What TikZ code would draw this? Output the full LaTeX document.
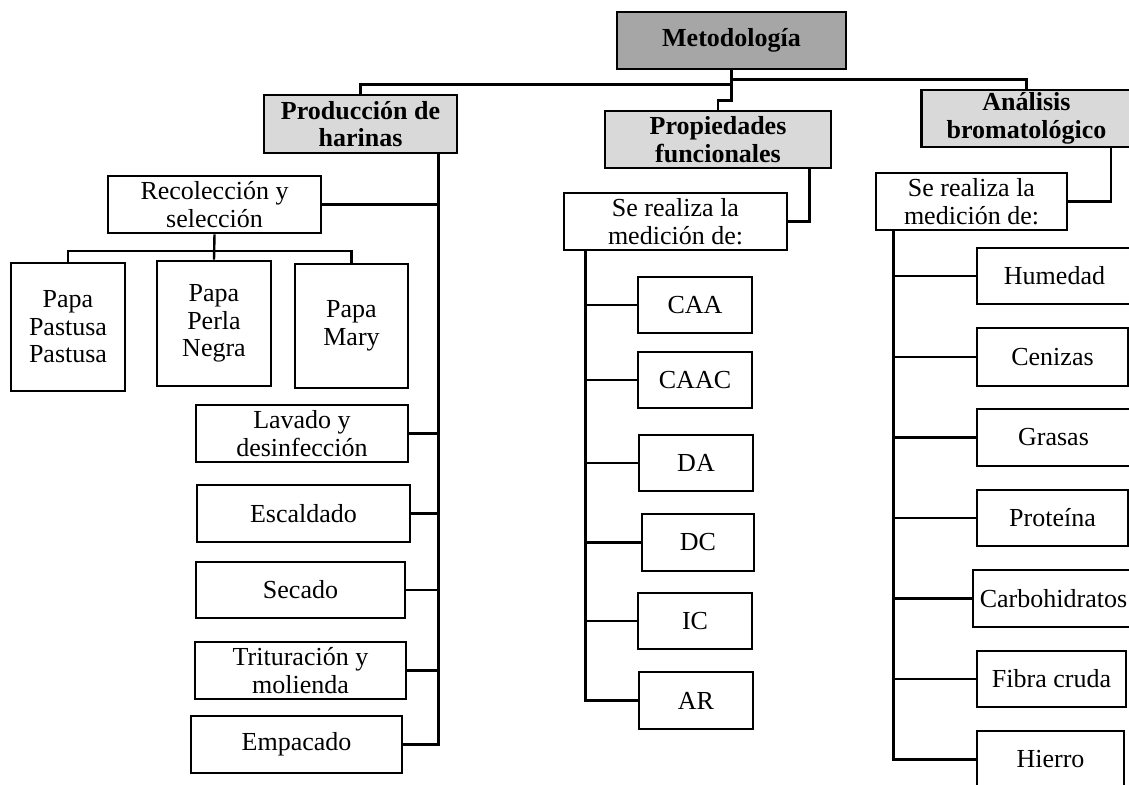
\documentclass[tikz,border=0pt]{standalone}
\usepackage{fontspec}
\setmainfont{Liberation Serif}
\usetikzlibrary{calc}
\definecolor{darkfill}{HTML}{A6A6A6}
\definecolor{lightfill}{HTML}{D9D9D9}
\tikzset{
  box/.style={draw=black, line width=2.6pt, fill=white, inner sep=0pt, align=center,
    font=\fontsize{26}{27.5}\selectfont},
  headbox/.style={box, fill=lightfill, font=\fontsize{26}{27.5}\selectfont\bfseries},
  rootbox/.style={box, fill=darkfill, font=\fontsize{26}{27.5}\selectfont\bfseries},
  link/.style={draw=black, line width=2.4pt},
  trunk/.style={draw=black, line width=3.2pt},
}
\begin{document}
\begin{tikzpicture}[x=1pt,y=-1pt]
\path[use as bounding box, clip] (0,0) rectangle (1129,784);
\fill[white] (0,0) rectangle (1129,784);

% top level
\node[rootbox, minimum width=229pt, minimum height=57pt] (met) at (731.5,40.5) {Metodología};
\node[headbox, minimum width=193pt, minimum height=58pt] (prod) at (360.5,124) {Producción de\\harinas};
\node[headbox, minimum width=226pt, minimum height=57pt] (prop) at (718,139.5) {Propiedades\\funcionales};
\node[headbox, minimum width=210pt, minimum height=57pt] (anal) at (1026.5,118.5) {Análisis\\bromatológico};

% production branch
\node[box, minimum width=213pt, minimum height=57pt] (recol) at (214.5,204.5) {Recolección y\\selección};
\node[box, minimum width=114pt, minimum height=128pt] (past) at (68,327) {Papa\\Pastusa\\Pastusa};
\node[box, minimum width=114pt, minimum height=125pt] (perla) at (214,323.5) {Papa\\Perla\\Negra};
\node[box, minimum width=113pt, minimum height=124pt] (mary) at (351.5,326) {Papa\\Mary};
\node[box, minimum width=212pt, minimum height=57pt] (lav) at (302,433.5) {Lavado y\\desinfección};
\node[box, minimum width=213pt, minimum height=57pt] (esc) at (303.5,513.5) {Escaldado};
\node[box, minimum width=209pt, minimum height=56pt] (sec) at (300.5,590) {Secado};
\node[box, minimum width=211pt, minimum height=57pt] (trit) at (300.5,670.5) {Trituración y\\molienda};
\node[box, minimum width=211pt, minimum height=57pt] (emp) at (296.5,744.5) {Empacado};

% functional properties branch
\node[box, minimum width=223pt, minimum height=57pt] (pfse) at (675.5,221.5) {Se realiza la\\medición de:};
\node[box, minimum width=114pt, minimum height=56pt] (caa) at (695,305) {CAA};
\node[box, minimum width=114pt, minimum height=56pt] (caac) at (695,380) {CAAC};
\node[box, minimum width=114pt, minimum height=56pt] (da) at (696,463) {DA};
\node[box, minimum width=112pt, minimum height=57pt] (dc) at (698,542.5) {DC};
\node[box, minimum width=114pt, minimum height=56pt] (ic) at (695,621) {IC};
\node[box, minimum width=114pt, minimum height=57pt] (ar) at (696,700.5) {AR};

% bromatological analysis branch
\node[box, minimum width=191pt, minimum height=57pt] (abse) at (971.5,201.5) {Se realiza la\\medición de:};
\node[box, minimum width=155pt, minimum height=56pt] (hum) at (1054.5,276) {Humedad};
\node[box, minimum width=151pt, minimum height=58pt] (cen) at (1052.5,357) {Cenizas};
\node[box, minimum width=153pt, minimum height=57pt] (gras) at (1053.5,437.5) {Grasas};
\node[box, minimum width=151pt, minimum height=56pt] (prot) at (1052.5,518) {Proteína};
\node[box, minimum width=161pt, minimum height=57pt] (carb) at (1053.5,598.5) {Carbohidratos};
\node[box, minimum width=149pt, minimum height=56pt] (fib) at (1051.5,679) {Fibra cruda};
\node[box, minimum width=147pt, minimum height=57pt] (hie) at (1050.5,759.5) {Hierro};

% connectors from root
\draw[link] (met.south) -- ++(0,9) -| (anal.north);
\draw[link] (met.south) -- ++(0,30) -| (prop.north);
\draw[link] ($(met.south)+(0,14)$) -| (prod.north);

% production trunk
\coordinate (pt) at ($(prod.south east)+(-20,0)$);
\draw[trunk] (pt) |- (emp.east);
\foreach \n in {recol,lav,esc,sec,trit} {\draw[link] (\n.east) -- (\n.east -| pt);}
\draw[link] (recol.south) -- (perla.north);
\draw[link] (past.north) -- ++(0,-11) -| (mary.north);

% functional properties trunk
\draw[link] ($(prop.south east)+(-23,0)$) |- (pfse.east);
\coordinate (ft) at ($(pfse.south west)+(23,0)$);
\draw[trunk] (ft) |- (ar.west);
\foreach \n in {caa,caac,da,dc,ic} {\draw[link] (\n.west) -- (\n.west -| ft);}

% bromatological trunk
\draw[link] ($(anal.south west)+(191,0)$) |- (abse.east);
\coordinate (bt) at ($(abse.south west)+(19,0)$);
\draw[trunk] (bt) |- (hie.west);
\foreach \n in {hum,cen,gras,prot,carb,fib} {\draw[link] (\n.west) -- (\n.west -| bt);}
\end{tikzpicture}
\end{document}
